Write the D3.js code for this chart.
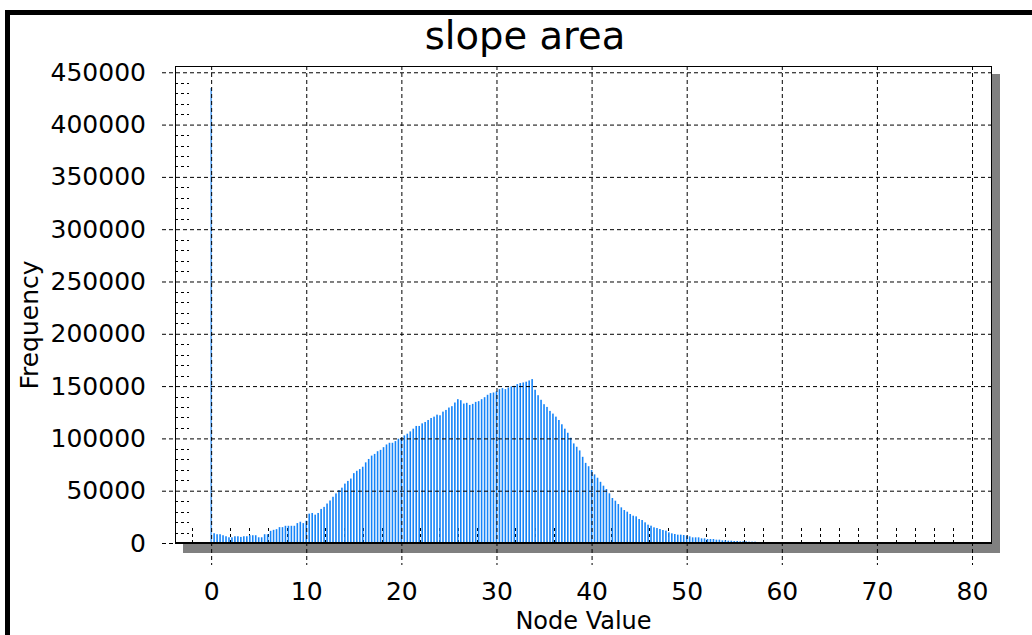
<!DOCTYPE html>
<html>
<head>
<meta charset="utf-8">
<script src="https://cdn.jsdelivr.net/npm/d3@7"></script>
<style>
  body { margin: 0; background: white; }
  svg { display: block; font-family: "DejaVu Sans", Verdana, sans-serif; }
</style>
</head>
<body>
<div id="chart"></div>
<script>
// histogram of node values, bins of 0.3125 starting at 0
const binWidth = 0.3125
const counts = [
    435000,
    9355, 8390, 8390, 7420, 6450, 5480, 5480, 6450, 6450, 5810,
    6450, 6450, 7420, 7420, 7420, 5480, 5480, 8390, 8390, 11610,
    12580, 13230, 15160, 15160, 16450, 16450, 16450, 16450, 19030, 20320,
    19030, 21290, 28070, 28710, 27100, 28710, 32580, 34520, 37740, 40650,
    44200, 47420, 50650, 52910, 56780, 59360, 61620, 66780, 69040, 70650,
    72910, 77100, 80330, 83550, 85170, 87750, 89040, 91620, 94200, 95810,
    95810, 97430, 99680, 100650,
    102880, 104500, 106700, 109300, 111900, 111900, 114400, 115700, 117600, 119500,
    120800, 122700, 122100, 125600, 127200, 129500, 130800, 134300, 137500, 136500,
    133300, 134000, 132000, 133000, 134900, 135600, 137500, 139400, 141700, 143300,
    143900, 144900, 147100, 148100, 147100, 148700, 149700, 150300, 151900, 152900,
    153500, 154200, 155400, 156700,
    146500, 141300, 136900, 132700, 130100, 126300, 123700, 120800, 117600, 113500,
    109300, 105400, 100600, 95200, 92000, 88500, 82400, 76600, 73400, 69800,
    65600, 62400, 58500, 54780, 51600, 47500, 43000, 40450, 37260, 34080,
    31530, 29940, 27710, 26120, 25480, 22930, 21980, 19750, 17520, 16560,
    14970, 14330, 13380, 12420, 11780, 10190, 9240, 8600, 7960, 7960,
    7640, 7000, 6370, 5410, 5410, 5410, 4460, 4460, 3820, 3820,
    3820, 3190, 3190, 2550, 2550, 2230, 2230, 1910, 1910, 1590,
    1590, 1590, 1270, 1270, 1270, 960, 960, 960
]
const xTicks = [0, 10, 20, 30, 40, 50, 60, 70, 80]
const xMinor = [-2, 2, 4, 6, 8, 12, 14, 16, 18, 22, 24, 26, 28, 32, 34, 36, 38, 42, 44, 46, 48,
    52, 54, 56, 58, 62, 64, 66, 68, 72, 74, 76, 78]
const yTicks = [0, 50000, 100000, 150000, 200000, 250000, 300000, 350000, 400000, 450000]

const bins = counts.map((c, i) => ({value: i * binWidth, count: c}))

const W = 1032, H = 635
const plot = {left: 175, right: 992, top: 66, bottom: 543}

const svg = d3.select("#chart").append("svg")
    .attr("width", W)
    .attr("height", H)

// outer frame
svg.append("rect")
    .attr("x", 7.5).attr("y", 12.5)
    .attr("width", 1100).attr("height", 700)
    .attr("fill", "none")
    .attr("stroke", "black")
    .attr("stroke-width", 5)

const x = d3.scaleLinear()
    .domain([-3.8, 82.1])
    .range([plot.left, plot.right])

const y = d3.scaleLinear()
    .domain([0, 456000])
    .range([plot.bottom, plot.top])

// shadow + background
svg.append("rect")
    .attr("x", plot.left + 8).attr("y", plot.top + 8)
    .attr("width", plot.right - plot.left).attr("height", plot.bottom - plot.top + 2)
    .attr("fill", "#808080")
svg.append("rect")
    .attr("x", plot.left).attr("y", plot.top)
    .attr("width", plot.right - plot.left).attr("height", plot.bottom - plot.top)
    .attr("fill", "white")

// minor ticks (under the bars)
const yMinor = d3.range(0, 456000, 10000).filter(v => v % 50000 !== 0)
svg.append("g")
    .selectAll("line")
    .data(yMinor)
    .join("line")
        .attr("x1", plot.left).attr("x2", plot.left + 14)
        .attr("y1", d => Math.round(y(d)) + 0.5).attr("y2", d => Math.round(y(d)) + 0.5)
        .attr("stroke", "black")
        .attr("stroke-dasharray", "3,3")

svg.append("g")
    .selectAll("line")
    .data(xMinor)
    .join("line")
        .attr("x1", d => Math.round(x(d)) + 0.5).attr("x2", d => Math.round(x(d)) + 0.5)
        .attr("y1", plot.bottom).attr("y2", plot.bottom - 15)
        .attr("stroke", "black")
        .attr("stroke-dasharray", "3,3")

// bars
svg.append("g")
    .selectAll("rect")
    .data(bins)
    .join("rect")
        .attr("x", d => x(d.value) - 0.8)
        .attr("width", 1.6)
        .attr("y", d => y(d.count))
        .attr("height", d => y(0) - y(d.count))
        .attr("fill", d => d.value === 0 ? "#5ba6f5" : "#1584f8")

// axes with dashed grid
const yGroup = svg.append("g")
    .attr("transform", `translate(${plot.left},0)`)
    .call(d3.axisLeft(y).tickValues(yTicks).tickSize(0).tickPadding(29).tickFormat(d3.format("d")))

yGroup
    .call(g => g.select(".domain").remove())
    .call(g => g.selectAll(".tick text").attr("font-size", 25).attr("fill", "black")
        .attr("font-family", "DejaVu Sans, Verdana, sans-serif"))
    .call(g => g.selectAll(".tick line")
        .attr("x1", -13)
        .attr("x2", plot.right - plot.left)
        .attr("stroke", "black")
        .attr("stroke-dasharray", "4,3"))

const xGroup = svg.append("g")
    .attr("transform", `translate(0,${plot.bottom})`)
    .call(d3.axisBottom(x).tickValues(xTicks).tickSize(0).tickPadding(39))

xGroup
    .call(g => g.select(".domain").remove())
    .call(g => g.selectAll(".tick text").attr("font-size", 25).attr("fill", "black")
        .attr("font-family", "DejaVu Sans, Verdana, sans-serif"))
    .call(g => g.selectAll(".tick line")
        .attr("y1", plot.top - plot.bottom)
        .attr("y2", 22)
        .attr("stroke", "black")
        .attr("stroke-dasharray", "4,3"))

// plot frame
svg.append("rect")
    .attr("x", plot.left + 0.5).attr("y", plot.top + 0.5)
    .attr("width", plot.right - plot.left - 1).attr("height", plot.bottom - plot.top)
    .attr("fill", "none")
    .attr("stroke", "black")
svg.append("line")
    .attr("x1", plot.left).attr("x2", plot.right)
    .attr("y1", plot.bottom).attr("y2", plot.bottom)
    .attr("stroke", "black")
    .attr("stroke-width", 2)

// titles
svg.append("text")
    .attr("x", 525).attr("y", 49)
    .attr("text-anchor", "middle")
    .attr("font-size", 38.5)
    .text("slope area")

svg.append("text")
    .attr("transform", "translate(38,325) rotate(-90)")
    .attr("text-anchor", "middle")
    .attr("font-size", 25)
    .text("Frequency")

svg.append("text")
    .attr("x", (plot.left + plot.right) / 2).attr("y", 629)
    .attr("text-anchor", "middle")
    .attr("font-size", 24)
    .text("Node Value")
</script>
</body>
</html>
